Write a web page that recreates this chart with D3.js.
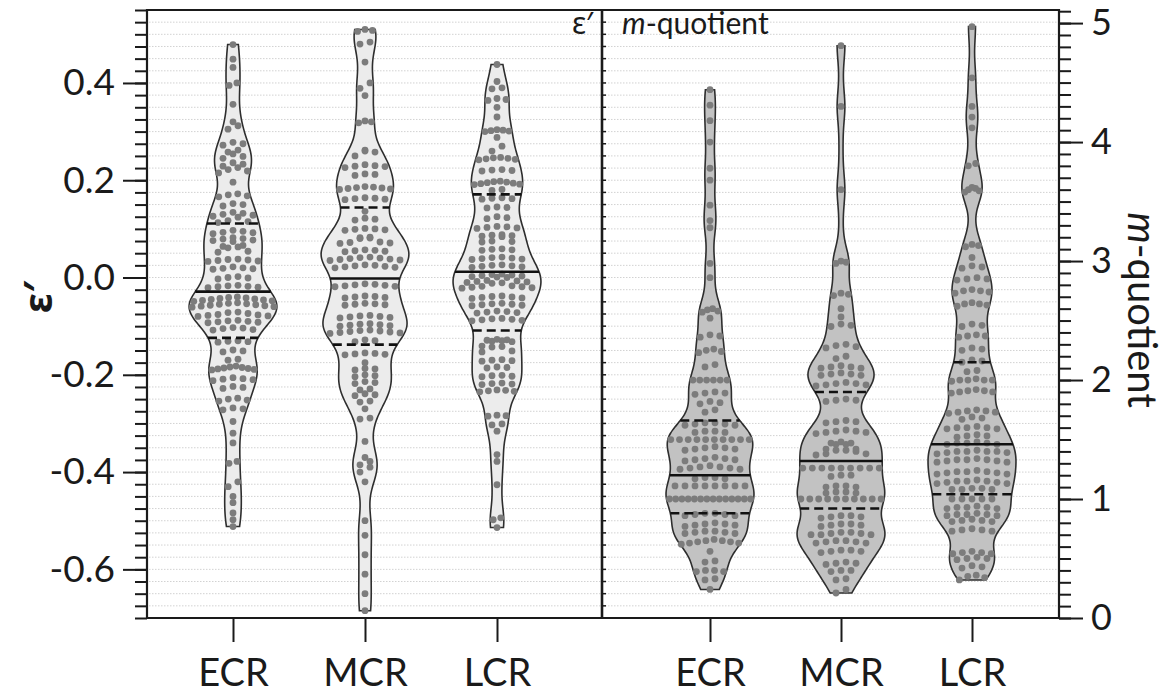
<!DOCTYPE html>
<html>
<head>
<meta charset="utf-8">
<script src="https://cdn.jsdelivr.net/npm/d3@7"></script>
<style>
  body { margin: 0; background: #fff; }
  svg { display: block; }
  text { font-family: Lato, "Noto Sans", sans-serif; fill: #1a1a1a; }
</style>
</head>
<body>
<svg id="chart" width="1172" height="695"></svg>
<script>
// ---- data -------------------------------------------------------------
const categories = ["ECR", "MCR", "LCR"];

// ε′ per recording
const epsECR = [
  0.479, 0.449, 0.432, 0.400, 0.395, 0.356,
  0.320, 0.312, 0.305, 0.278, 0.275, 0.272,
  0.262, 0.258, 0.254, 0.249, 0.245,
  0.236, 0.233, 0.229, 0.226, 0.222, 0.219, 0.215, 0.196,
  0.172, 0.170, 0.168, 0.166, 0.152, 0.150, 0.147,
  0.134, 0.132, 0.130, 0.128, 0.126, 0.124, 0.117, 0.115, 0.113,
  0.097, 0.095, 0.093, 0.092, 0.090, 0.082, 0.080, 0.079, 0.077, 0.076, 0.074,
  0.066, 0.064, 0.063, 0.061, 0.054, 0.052,
  0.038, 0.037, 0.036, 0.035, 0.034, 0.033, 0.022, 0.020, 0.019, 0.018, 0.017,
  0.002, 0.000, -0.001, -0.003,
  -0.016, -0.017, -0.018, -0.019, -0.020, -0.021,
  -0.040, -0.041, -0.042, -0.043, -0.044, -0.045, -0.046, -0.047, -0.048, -0.049,
  -0.052, -0.053, -0.054, -0.055, -0.056, -0.057, -0.058, -0.059, -0.060, -0.061,
  -0.071, -0.072, -0.074, -0.076, -0.077, -0.078, -0.079, -0.080,
  -0.088, -0.089, -0.090, -0.091, -0.092, -0.093,
  -0.103, -0.104, -0.105, -0.107, -0.108,
  -0.130, -0.131, -0.132, -0.133, -0.149, -0.151, -0.153, -0.168, -0.170,
  -0.182, -0.184, -0.185, -0.186, -0.187, -0.188, -0.189, -0.190,
  -0.206, -0.208, -0.209, -0.210, -0.212, -0.224, -0.226, -0.228,
  -0.248, -0.250, -0.252, -0.254, -0.268, -0.270, -0.272,
  -0.296, -0.320, -0.340, -0.378, -0.382, -0.420, -0.430, -0.450, -0.463, -0.484, -0.498, -0.512
];
const epsMCR = [
  0.510, 0.508, 0.506, 0.484, 0.480, 0.443, 0.400, 0.389, 0.374, 0.322, 0.320, 0.318,
  0.262, 0.260, 0.258, 0.250, 0.232, 0.230, 0.229, 0.228, 0.226, 0.213, 0.212, 0.210,
  0.187, 0.186, 0.185, 0.184, 0.183, 0.182, 0.181, 0.164, 0.163, 0.162, 0.161, 0.160,
  0.136, 0.122, 0.120, 0.118, 0.101, 0.100, 0.099, 0.098, 0.097, 0.083, 0.082, 0.081, 0.080,
  0.073, 0.072, 0.071, 0.070, 0.057, 0.056, 0.055, 0.054, 0.053,
  0.042, 0.041, 0.040, 0.039, 0.038, 0.037, 0.036, 0.035,
  0.026, 0.025, 0.024, 0.023, 0.022, 0.021, 0.020,
  -0.013, -0.014, -0.015, -0.016, -0.017, -0.018, -0.019,
  -0.038, -0.039, -0.040, -0.041, -0.042,
  -0.053, -0.054, -0.055, -0.056, -0.057,
  -0.078, -0.079, -0.080, -0.081, -0.082, -0.083,
  -0.095, -0.096, -0.097, -0.098, -0.099, -0.100,
  -0.108, -0.109, -0.110, -0.111, -0.112, -0.113, -0.114, -0.115,
  -0.128, -0.130, -0.132,
  -0.155, -0.156, -0.157, -0.158, -0.159, -0.175, -0.187, -0.188, -0.190,
  -0.200, -0.202, -0.204, -0.214, -0.216, -0.218, -0.229, -0.231,
  -0.239, -0.241, -0.243, -0.254, -0.256, -0.270, -0.289, -0.291,
  -0.337, -0.370, -0.378, -0.385, -0.390, -0.400, -0.420,
  -0.500, -0.530, -0.570, -0.610, -0.650, -0.685
];
const epsLCR = [
  0.438, 0.403, 0.390, 0.388, 0.368, 0.366, 0.364, 0.350, 0.330,
  0.304, 0.303, 0.302, 0.301, 0.300, 0.288, 0.270, 0.260,
  0.247, 0.246, 0.245, 0.244, 0.243, 0.242, 0.222, 0.221, 0.220, 0.219,
  0.198, 0.197, 0.196, 0.195, 0.194, 0.193, 0.192, 0.191, 0.181, 0.179,
  0.164, 0.163, 0.162, 0.161, 0.145, 0.144, 0.143, 0.125, 0.123, 0.121,
  0.105, 0.104, 0.103, 0.102, 0.101, 0.088, 0.087, 0.086, 0.085, 0.084, 0.075, 0.074, 0.073,
  0.059, 0.058, 0.057, 0.056, 0.042, 0.041, 0.040, 0.039, 0.038, 0.037,
  0.026, 0.025, 0.024, 0.023, 0.022, 0.021,
  0.007, 0.006, 0.005, 0.004, 0.003, 0.002, 0.001, 0.000,
  -0.006, -0.007, -0.008, -0.009, -0.010, -0.011, -0.012,
  -0.017, -0.018, -0.019, -0.020, -0.021, -0.022,
  -0.038, -0.039, -0.040, -0.041, -0.042, -0.043,
  -0.053, -0.054, -0.055, -0.056, -0.057, -0.058,
  -0.069, -0.070, -0.071, -0.072, -0.073,
  -0.084, -0.085, -0.086, -0.087, -0.088, -0.089,
  -0.127, -0.128, -0.129, -0.130, -0.131, -0.132, -0.141, -0.142, -0.143, -0.151, -0.153,
  -0.169, -0.170, -0.171, -0.172, -0.184, -0.185, -0.186,
  -0.201, -0.202, -0.203, -0.204, -0.217, -0.218, -0.219, -0.220,
  -0.231, -0.232, -0.233, -0.234, -0.235,
  -0.283, -0.284, -0.285, -0.301, -0.303, -0.316, -0.364, -0.378, -0.426, -0.494, -0.498, -0.514
];

// m-quotient per recording
const mqECR = [
  4.44, 4.31, 4.18, 4.00, 3.78, 3.68, 3.47, 3.34, 3.28, 2.98, 2.86,
  2.60, 2.59, 2.58, 2.57, 2.52, 2.38, 2.37, 2.36, 2.26, 2.25, 2.24, 2.23, 2.13, 2.11,
  2.00, 2.00, 2.00, 2.00, 2.00, 2.00,
  1.90, 1.89, 1.89, 1.88, 1.82, 1.81, 1.80, 1.75, 1.73,
  1.64, 1.64, 1.63, 1.63, 1.62, 1.62, 1.57, 1.57, 1.56, 1.56,
  1.50, 1.50, 1.50, 1.50, 1.50, 1.50, 1.50, 1.50, 1.50, 1.50,
  1.44, 1.43, 1.43, 1.42, 1.42, 1.41, 1.35, 1.34, 1.34, 1.33, 1.33, 1.32,
  1.28, 1.27, 1.27, 1.26, 1.26, 1.25, 1.25, 1.18, 1.18, 1.17, 1.17,
  1.11, 1.11, 1.11, 1.11, 1.11, 1.11, 1.11, 1.11,
  1.00, 1.00, 1.00, 1.00, 1.00, 1.00, 1.00, 1.00, 1.00, 1.00, 1.00, 1.00, 1.00, 1.00,
  0.88, 0.88, 0.87, 0.87, 0.86, 0.86, 0.80, 0.79, 0.79, 0.78, 0.78, 0.77,
  0.73, 0.73, 0.72, 0.72, 0.71, 0.71, 0.66, 0.65, 0.65, 0.64, 0.64, 0.63, 0.63, 0.62,
  0.56, 0.48, 0.47, 0.40, 0.40, 0.39, 0.39, 0.33, 0.32, 0.24
];
const mqMCR = [
  4.81, 4.30, 3.60, 3.00, 2.99, 2.98, 2.73, 2.72, 2.71, 2.60, 2.53, 2.47, 2.46, 2.45,
  2.30, 2.29, 2.28, 2.27, 2.20, 2.18, 2.12, 2.11, 2.11, 2.10, 2.10, 2.06, 2.05, 2.05, 2.04, 2.04,
  1.98, 1.97, 1.97, 1.96, 1.96, 1.95, 1.84, 1.83, 1.83, 1.82,
  1.66, 1.65, 1.65, 1.64, 1.58, 1.57, 1.57, 1.56, 1.56, 1.55,
  1.48, 1.47, 1.47, 1.46, 1.46, 1.42, 1.42, 1.41, 1.41, 1.40, 1.38, 1.38, 1.37,
  1.26, 1.26, 1.26, 1.26, 1.26, 1.26, 1.26, 1.26, 1.26,
  1.20, 1.20, 1.19, 1.11, 1.11, 1.10, 1.10, 1.06, 1.06, 1.05, 1.05,
  1.00, 1.00, 1.00, 1.00, 1.00, 1.00, 1.00, 1.00, 1.00, 1.00,
  0.86, 0.86, 0.85, 0.85, 0.84, 0.79, 0.79, 0.78, 0.78, 0.77,
  0.72, 0.72, 0.71, 0.71, 0.70, 0.70, 0.70, 0.65, 0.65, 0.64, 0.64, 0.63, 0.63,
  0.57, 0.57, 0.56, 0.56, 0.55, 0.47, 0.46, 0.46, 0.45, 0.40, 0.40, 0.39,
  0.33, 0.32, 0.24, 0.21
];
const mqLCR = [
  4.97, 4.54, 4.30, 4.21, 4.12, 3.82, 3.80, 3.62, 3.61, 3.60, 3.59, 3.58,
  3.14, 3.13, 3.12, 3.03, 2.96, 2.95, 2.94, 2.86, 2.85, 2.85, 2.84,
  2.76, 2.75, 2.75, 2.74, 2.73, 2.65, 2.64, 2.64, 2.63, 2.62,
  2.47, 2.46, 2.45, 2.38, 2.37, 2.37, 2.36, 2.27, 2.26, 2.25,
  2.17, 2.16, 2.15, 2.08, 2.07, 2.01, 2.00, 2.00, 2.00, 2.00, 1.99,
  1.92, 1.91, 1.91, 1.90, 1.90, 1.89, 1.75, 1.74, 1.74, 1.73, 1.73, 1.72, 1.69, 1.68, 1.67,
  1.61, 1.60, 1.60, 1.60, 1.59, 1.59, 1.54, 1.53, 1.53, 1.52,
  1.48, 1.47, 1.47, 1.47, 1.46, 1.46,
  1.41, 1.40, 1.40, 1.40, 1.40, 1.39, 1.39, 1.38,
  1.34, 1.33, 1.33, 1.33, 1.32, 1.32, 1.31, 1.31,
  1.24, 1.23, 1.23, 1.23, 1.22, 1.22, 1.21, 1.21,
  1.16, 1.15, 1.15, 1.15, 1.14, 1.14, 1.13, 1.13,
  1.09, 1.09, 1.08, 1.08, 1.08,
  1.00, 1.00, 1.00, 1.00, 1.00,
  0.94, 0.93, 0.93, 0.93, 0.92, 0.92,
  0.88, 0.87, 0.87, 0.87, 0.86, 0.86,
  0.83, 0.82, 0.82, 0.81, 0.81,
  0.75, 0.74, 0.74, 0.73, 0.73,
  0.56, 0.55, 0.55, 0.54, 0.54, 0.51, 0.50, 0.50, 0.49,
  0.44, 0.43, 0.42, 0.36, 0.35, 0.34, 0.32
];

// quartiles and medians drawn across each violin
const epsQ1 = [-0.124, -0.138, -0.109];
const epsMedian = [-0.029, -0.002, 0.012];
const epsQ3 = [0.111, 0.144, 0.171];
const mqQ1 = [0.88, 0.92, 1.04];
const mqMedian = [1.20, 1.32, 1.46];
const mqQ3 = [1.66, 1.90, 2.15];

// axis ticks
const epsTicks = [-0.6, -0.4, -0.2, 0.0, 0.2, 0.4];
const mqTicks = [0, 1, 2, 3, 4, 5];

// ---- layout -----------------------------------------------------------
const plot = { left: 147, right: 1059, top: 10, bottom: 618, split: 602 };
const ink = "#1a1a1a";

const svg = d3.select("#chart");

const yL = d3.scaleLinear().domain([-0.7, 0.55]).range([plot.bottom, plot.top]);
const yR = d3.scaleLinear().domain([0, 5.11]).range([plot.bottom, plot.top]);
const xL = d3.scalePoint().domain(categories).range([233, 497]);
const xR = d3.scalePoint().domain(categories).range([710, 972]);

const epsMinor = d3.range(-28, 23).map(i => +(i * 0.025).toFixed(3)).filter(v => v >= -0.7 && v <= 0.55);
const mqMinor = d3.range(0, 52).map(i => +(i * 0.1).toFixed(1));

// dotted background rules on the ε′ minor grid
svg.append("g")
  .selectAll("line")
  .data(epsMinor.filter(v => v > -0.7 && v < 0.55))
  .join("line")
  .attr("x1", plot.left + 2).attr("x2", plot.right - 2)
  .attr("y1", d => yL(d)).attr("y2", d => yL(d))
  .attr("stroke", "#d2d2d2")
  .attr("stroke-width", 1)
  .attr("stroke-dasharray", "1.5,1.5");

// ---- violins ----------------------------------------------------------
const maxHalf = 44;

function makeDensity(values, bw) {
  return t => d3.mean(values, v => Math.exp(-0.5 * ((t - v) / bw) ** 2));
}

function drawViolins(groups, x, y, bw, fill, floor, q1s, meds, q3s) {
  const layer = svg.append("g");
  groups.forEach((values, gi) => {
    const cx = x(categories[gi]);
    const dens = makeDensity(values, bw);
    const lo = d3.min(values), hi = d3.max(values);
    const grid = d3.range(161).map(i => lo + (hi - lo) * i / 160);
    const peak = d3.max(grid.map(dens));
    const halfW = t => floor + (maxHalf - floor) * dens(t) / peak;

    const area = d3.area()
      .y(d => y(d))
      .x0(d => cx - halfW(d))
      .x1(d => cx + halfW(d))
      .curve(d3.curveBasis);

    layer.append("path")
      .datum(grid)
      .attr("d", area)
      .attr("fill", fill)
      .attr("stroke", "#2e2e2e")
      .attr("stroke-width", 1.6);

    // dots: stacked in horizontal rows that fit inside the violin
    const sorted = values.slice().sort(d3.ascending);
    const rows = [];
    let cur = null;
    for (const v of sorted) {
      const py = y(v);
      if (cur && Math.abs(cur.y0 - py) < 5.5) cur.items.push(v);
      else { cur = { y0: py, items: [v] }; rows.push(cur); }
    }
    const dots = [];
    rows.forEach(r => {
      const n = r.items.length;
      const hw = halfW(d3.mean(r.items));
      const step = n > 1 ? Math.min(10, Math.max(2 * hw - 6, 0) / (n - 1)) : 0;
      const order = d3.range(n).map(i => (i % 2 === 0 ? i / 2 : n - 1 - (i - 1) / 2));
      r.items.forEach((v, i) => dots.push({ x: cx + (order[i] - (n - 1) / 2) * step, y: y(v) }));
    });
    layer.append("g")
      .selectAll("circle")
      .data(dots)
      .join("circle")
      .attr("cx", d => d.x)
      .attr("cy", d => d.y)
      .attr("r", 3.4)
      .attr("fill", "#7c7c7c");

    // quartile (dashed) and median (solid) bars
    const bars = [
      { v: q1s[gi], dash: "9,5" },
      { v: q3s[gi], dash: "9,5" },
      { v: meds[gi], dash: null }
    ];
    layer.append("g")
      .selectAll("line")
      .data(bars)
      .join("line")
      .attr("x1", d => cx - halfW(d.v))
      .attr("x2", d => cx + halfW(d.v))
      .attr("y1", d => y(d.v))
      .attr("y2", d => y(d.v))
      .attr("stroke", "#111")
      .attr("stroke-width", 2.6)
      .attr("stroke-dasharray", d => d.dash);
  });
}

drawViolins([epsECR, epsMCR, epsLCR], xL, yL, 0.03, "#ececec", 3, epsQ1, epsMedian, epsQ3);
drawViolins([mqECR, mqMCR, mqLCR], xR, yR, 0.12, "#c2c2c2", 2, mqQ1, mqMedian, mqQ3);

// ---- axes and frame ---------------------------------------------------
function styleAxis(g) {
  g.select(".domain").remove();
  g.selectAll(".tick line").attr("stroke", ink).attr("stroke-width", 2);
  g.selectAll(".tick text").attr("fill", ink);
}

// left ε′ axis
svg.append("g")
  .attr("transform", `translate(${plot.left},0)`)
  .call(d3.axisLeft(yL).tickValues(epsMinor).tickSize(12).tickFormat(""))
  .call(styleAxis);
svg.append("g")
  .attr("transform", `translate(${plot.left},0)`)
  .call(d3.axisLeft(yL).tickValues(epsTicks).tickSize(24).tickPadding(8).tickFormat(d => d.toFixed(1)))
  .call(styleAxis)
  .selectAll("text").style("font-size", "37px");

// right m-quotient axis
svg.append("g")
  .attr("transform", `translate(${plot.right},0)`)
  .call(d3.axisRight(yR).tickValues(mqMinor.filter(v => v <= 5.1)).tickSize(12).tickFormat(""))
  .call(styleAxis);
svg.append("g")
  .attr("transform", `translate(${plot.right},0)`)
  .call(d3.axisRight(yR).tickValues(mqTicks).tickSize(24).tickPadding(8).tickFormat(d3.format("d")))
  .call(styleAxis)
  .selectAll("text").style("font-size", "36px");

// category axes
[xL, xR].forEach(x => {
  svg.append("g")
    .attr("transform", `translate(0,${plot.bottom})`)
    .call(d3.axisBottom(x).tickSize(24).tickPadding(17))
    .call(styleAxis)
    .selectAll("text").style("font-size", "38px");
});

// frame lines
const frame = svg.append("g").attr("stroke", ink).attr("stroke-width", 2.2).attr("fill", "none");
frame.append("path").attr("d",
  `M${plot.left},${plot.top}H${plot.right}V${plot.bottom}H${plot.left}Z`);
frame.append("line")
  .attr("x1", plot.split).attr("x2", plot.split)
  .attr("y1", plot.top).attr("y2", plot.bottom)
  .attr("stroke-width", 2.6);
svg.append("g")
  .selectAll("line")
  .data(epsMinor.filter(v => v > -0.7 && v < 0.55))
  .join("line")
  .attr("x1", plot.split).attr("x2", plot.split + 4)
  .attr("y1", d => yL(d)).attr("y2", d => yL(d))
  .attr("stroke", ink).attr("stroke-width", 1.5);

// panel captions
svg.append("text")
  .attr("x", plot.split - 9).attr("y", 34)
  .attr("text-anchor", "end")
  .style("font-family", "'Noto Sans', sans-serif")
  .style("font-size", "30px")
  .text("ε′");
const cap = svg.append("text")
  .attr("x", plot.split + 20).attr("y", 34)
  .style("font-size", "30px");
cap.append("tspan").style("font-style", "italic").text("m");
cap.append("tspan").text("-quotient");

// axis titles
svg.append("text")
  .attr("transform", "translate(52,297) rotate(-90)")
  .attr("text-anchor", "middle")
  .style("font-family", "'Noto Sans', sans-serif")
  .style("font-weight", "bold")
  .style("font-size", "40px")
  .text("ε′");
const rt = svg.append("text")
  .attr("transform", "translate(1128,310) rotate(90)")
  .attr("text-anchor", "middle")
  .style("font-size", "40px");
rt.append("tspan").style("font-style", "italic").text("m");
rt.append("tspan").text("-quotient");
</script>
</body>
</html>
